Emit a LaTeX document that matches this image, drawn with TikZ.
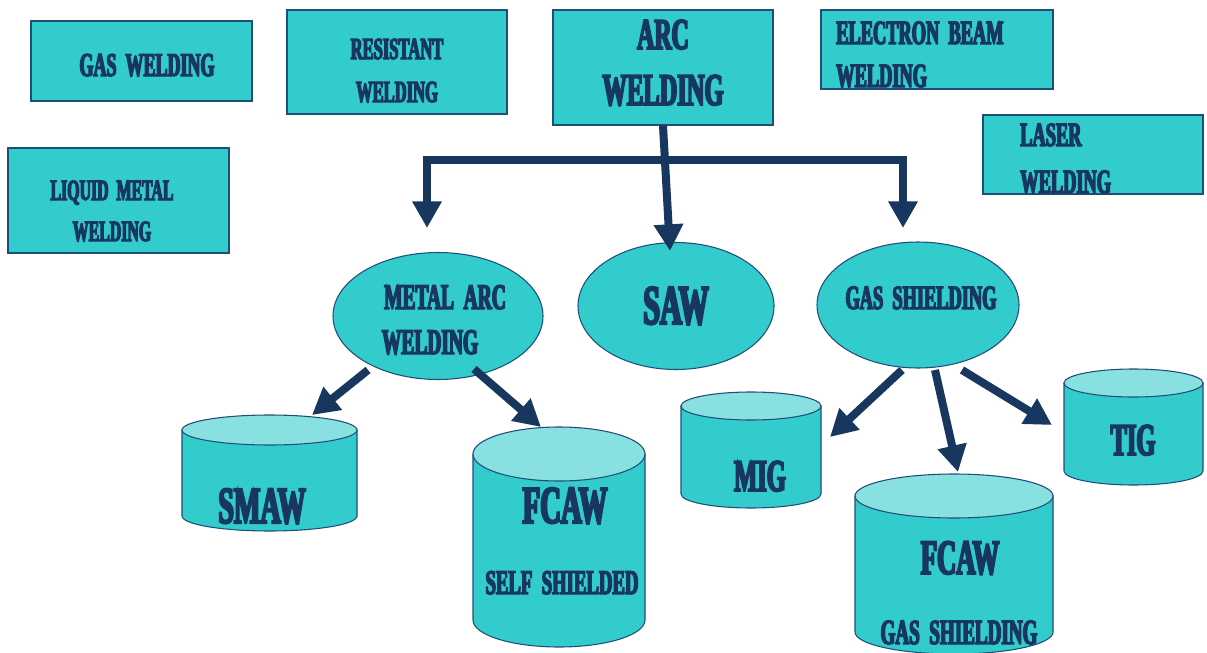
\documentclass[tikz,border=0pt]{standalone}
\usepackage{fontspec}
\newfontfamily\wood{Liberation Serif}[UprightFont={* Bold}, FakeStretch=0.54, FakeBold=4]
\usetikzlibrary{arrows.meta,shapes.geometric,fit}
\definecolor{tealfill}{HTML}{33CCCC}
\definecolor{tealtop}{HTML}{88E0E0}
\definecolor{edgec}{HTML}{1F4E79}
\definecolor{navy}{HTML}{17375E}
\newcommand\cyl[6]{%
 \path[fill=tealfill, draw=edgec, line width=0.8pt] (#2,#4) -- (#2,#5) arc[start angle=180, end angle=0, x radius={(#3-#2)/2}, y radius=#6] -- (#3,#4) -- cycle;
 \path[fill=tealtop, draw=edgec, line width=0.8pt] ({(#2+#3)/2},#4) ellipse[x radius={(#3-#2)/2}, y radius=#6];
 \node[inner sep=0pt, fit={(#2,{#4-#6}) (#3,{#5+#6})}] (#1) {};
}
\begin{document}
\begin{tikzpicture}[x=0.75pt,y=-0.75pt,
 box/.style={draw=edgec, fill=tealfill, line width=0.9pt, inner sep=0pt},
 oval/.style={ellipse, draw=edgec, fill=tealfill, line width=0.8pt, inner sep=0pt},
 lbl/.style={text=navy, inner sep=0pt, anchor=base},
 fs/.style={font=\wood\fontsize{#1}{#1}\selectfont},
 arr/.style={draw=navy, line width=6pt, -{Triangle[length=20pt,width=21pt]}},
]
\useasboundingbox (0,0) rectangle (1207,653);
% boxes
\node[box, fit={(31,21) (252,101)}] (gas) {};
\node[box, fit={(287,10) (507,114)}] (res) {};
\node[box, fit={(553,10) (773,125)}] (arc) {};
\node[box, fit={(821,10) (1053,89)}] (ebw) {};
\node[box, fit={(983,115) (1203,194)}] (las) {};
\node[box, fit={(8,148) (229,253)}] (liq) {};
% ellipses
\node[oval, minimum width=210*0.75pt, minimum height=127*0.75pt] (mae) at (438,316) {};
\node[oval, minimum width=196*0.75pt, minimum height=127*0.75pt] (saw) at (676,306) {};
\node[oval, minimum width=202*0.75pt, minimum height=126*0.75pt] (gsh) at (918,305) {};
% cylinders
\cyl{smaw}{182}{357}{430}{516}{15}
\cyl{fcs}{473}{645}{454}{620}{27}
\cyl{mig}{681}{821}{406}{494}{14}
\cyl{tig}{1064}{1203}{383}{471}{14}
\cyl{fcg}{855}{1053}{496}{632}{22}
% labels
\node[lbl, fs=25] (t-gas) at (147,76) {GAS\ \ WELDING};
\node[lbl, fs=23] (t-res1) at (397,59) {RESISTANT};
\node[lbl, fs=23] (t-res2) at (397,102) {WELDING};
\node[lbl, fs=33] (t-arc1) at (663,49) {ARC};
\node[lbl, fs=34] (t-arc2) at (663,105) {WELDING};
\node[lbl, fs=25.5, anchor=base west] (t-ebw1) at (836,44) {ELECTRON\ \ BEAM};
\node[lbl, fs=25.5, anchor=base west] (t-ebw2) at (836,87) {WELDING};
\node[lbl, fs=25.5, anchor=base west] (t-las1) at (1020,146) {LASER};
\node[lbl, fs=25.5, anchor=base west] (t-las2) at (1020,193) {WELDING};
\node[lbl, fs=22] (t-liq1) at (112,200) {LIQUID\ \ METAL};
\node[lbl, fs=22] (t-liq2) at (112,241) {WELDING};
\node[lbl, fs=27] (t-mae1) at (445,309) {METAL\ \ ARC};
\node[lbl, fs=27] (t-mae2) at (430,354) {WELDING};
\node[lbl, fs=42] (t-saw) at (676,324) {SAW};
\node[lbl, fs=25.5] (t-gsh) at (921,309) {GAS\ \ SHIELDING};
\node[lbl, fs=39] (t-smaw) at (262,523) {SMAW};
\node[lbl, fs=40] (t-fcs1) at (565,523) {FCAW};
\node[lbl, fs=26] (t-fcs2) at (562,594) {SELF\ \ SHIELDED};
\node[lbl, fs=34] (t-mig) at (760,491) {MIG};
\node[lbl, fs=34] (t-tig) at (1133,455) {TIG};
\node[lbl, fs=37] (t-fcg1) at (960,574) {FCAW};
\node[lbl, fs=26.5] (t-fcg2) at (959,644) {GAS\ \ SHIELDING};
% connector coordinates
\coordinate (j) at (665,160);
\coordinate (tipL) at (427,228);
\coordinate (tipR) at (903,228);
\coordinate (tipS) at (670,251);
\coordinate (s1) at (368,370);
\coordinate (e1) at (312,415);
\coordinate (s2) at (474,369);
\coordinate (e2) at (541,427);
\coordinate (s3) at (902,370);
\coordinate (e3) at (830,437);
\coordinate (s4) at (935,370);
\coordinate (e4) at (958,472);
\coordinate (s5) at (962,370);
\coordinate (e5) at (1052,425);
% connectors
\draw[arr] (arc.south) -- (tipS);
\draw[arr] (j) -| (tipL);
\draw[arr] (j) -| (tipR);
\draw[arr] (s1) -- (e1);
\draw[arr] (s2) -- (e2);
\draw[arr] (s3) -- (e3);
\draw[arr] (s4) -- (e4);
\draw[arr] (s5) -- (e5);
\end{tikzpicture}
\end{document}
